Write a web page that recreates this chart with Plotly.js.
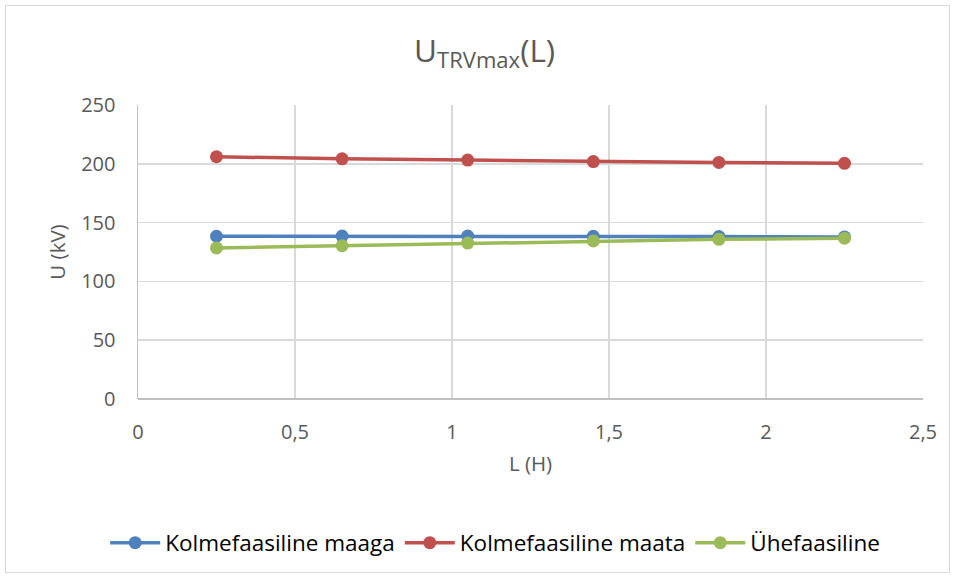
<!DOCTYPE html>
<html>
<head>
<meta charset="utf-8">
<script src="https://cdn.plot.ly/plotly-3.0.1.min.js"></script>
<style>
html,body{margin:0;padding:0;background:#fff;}
#chart{width:954px;height:577px;}
#frame{position:absolute;left:5px;top:5px;width:943px;height:566px;border:1px solid #d9d9d9;pointer-events:none;}
</style>
</head>
<body>
<div id="chart"></div>
<div id="frame"></div>
<script>
const L = [0.25, 0.65, 1.05, 1.45, 1.85, 2.25];
const maaga = [138.4, 138.5, 138.6, 138.4, 138.2, 137.8];
const maata = [206, 204.2, 203.2, 201.9, 201.2, 200.4];
const yhefaasiline = [128.5, 130.3, 132.6, 134.4, 135.8, 136.7];
const names = ['Kolmefaasiline maaga', 'Kolmefaasiline maata', 'Ühefaasiline'];
const colors = ['#4f81bd', '#c0504d', '#9bbb59'];

const series = [maaga, maata, yhefaasiline];
const traces = series.map((y, i) => ({
  x: L, y: y, name: names[i], type: 'scatter', mode: 'lines+markers',
  line: {color: colors[i], width: 3.5},
  marker: {color: colors[i], size: 13}
}));

const font = '"Open Sans", sans-serif';
const layout = {
  width: 954, height: 577,
  margin: {l: 138, r: 31, t: 105, b: 178},
  paper_bgcolor: '#fff', plot_bgcolor: '#fff',
  separators: ', ',
  font: {family: font, color: '#595959', size: 20},
  title: {text: 'U<sub>TRVmax</sub>(L)', x: 0.508, xanchor: 'center', y: 0.912, yanchor: 'middle',
          font: {family: font, size: 31.5, color: '#595959'}},
  xaxis: {
    range: [0, 2.5], dtick: 0.5, tick0: 0,
    showgrid: true, gridcolor: '#d9d9d9', gridwidth: 1.5,
    showline: false, zeroline: false,
    ticks: 'outside', ticklen: 15, tickcolor: 'rgba(0,0,0,0)',
    tickfont: {family: font, size: 20, color: '#595959'},
    title: {text: 'L (H)', font: {family: font, size: 20.5, color: '#595959'}, standoff: 12}
  },
  yaxis: {
    range: [0, 250], dtick: 50, tick0: 0,
    showgrid: true, gridcolor: '#d9d9d9', gridwidth: 1.5,
    showline: true, linecolor: '#bfbfbf', linewidth: 1.5,
    zeroline: true, zerolinecolor: '#bfbfbf', zerolinewidth: 1.5,
    ticks: 'outside', ticklen: 17, tickcolor: 'rgba(0,0,0,0)',
    tickfont: {family: font, size: 20, color: '#595959'},
    title: {text: 'U (kV)', font: {family: font, size: 20.5, color: '#595959'}, standoff: 10}
  },
  showlegend: true,
  legend: {orientation: 'h', x: 0.455, xanchor: 'center', y: -0.49, yanchor: 'middle',
           font: {family: font, size: 22.5, color: '#000'}, itemwidth: 50, tracegroupgap: 0},
};

Plotly.newPlot('chart', traces, layout, {displayModeBar: false, staticPlot: true});
</script>
</body>
</html>
